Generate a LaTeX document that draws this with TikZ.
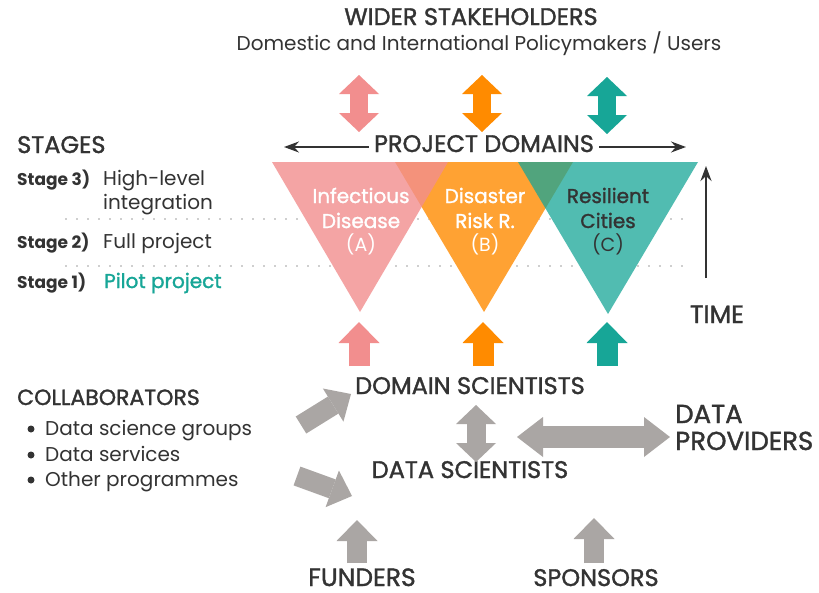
\documentclass[tikz,border=0pt]{standalone}
\usepackage{fontspec}
\setmainfont{Poppins}
\newfontfamily\medfont[FakeBold=1.4]{Poppins}
\usetikzlibrary{arrows.meta}
\definecolor{txt}{HTML}{333333}
\definecolor{gr}{HTML}{AAA6A4}
\definecolor{pk}{HTML}{F28E8E}
\definecolor{og}{HTML}{FF8B00}
\definecolor{tl}{HTML}{17A697}
\definecolor{dotc}{HTML}{CFCFCF}
\begin{document}
\begin{tikzpicture}[x=1pt,y=-1pt,
  head/.style={font=\medfont\fontsize{24}{28}\selectfont, text=txt, inner sep=0pt},
  body/.style={font=\fontsize{20}{24}\selectfont, text=txt, inner sep=0pt, anchor=base west},
  stagelab/.style={font=\bfseries\fontsize{17}{20}\selectfont, text=txt, inner sep=0pt, anchor=base west},
  tri/.style={font=\medfont\fontsize{20}{24}\selectfont, text=white, inner sep=0pt, anchor=base},
  trisub/.style={font=\fontsize{19}{23}\selectfont, text=white, inner sep=0pt, anchor=base},
  fatup/.style={line width=21pt, -{Triangle[length=21pt,width=41pt,line width=0pt]}},
  fatboth/.style={line width=18pt, {Triangle[length=19pt,width=40pt,line width=0pt]}-{Triangle[length=19pt,width=40pt,line width=0pt]}},
  thinarrow/.style={draw=txt, line width=2pt, -{Stealth[length=15pt,width=11pt,inset=5pt]}},
  dotline/.style={draw=dotc, line width=2pt, dash pattern=on 2pt off 9pt}
]
\useasboundingbox (0,0) rectangle (819,592);
\fill[white] (0,0) rectangle (819,592);

% header
\node[head, anchor=base] (wider) at (471,25) {WIDER STAKEHOLDERS};
\node[body, anchor=base] (users) at (479,50) {Domestic and International Policymakers / Users};

% stages
\node[head, anchor=base west] (stages) at (17,153) {STAGES};
\node[stagelab] (s3) at (17,185) {Stage 3)};
\node[body] (s3t) at (103,185) {High-level};
\node[body] (s3u) at (103,209) {integration};
\node[stagelab] (s2) at (17,248) {Stage 2)};
\node[body] (s2t) at (103,248) {Full project};
\node[stagelab] (s1) at (17,288) {Stage 1)};
\node[body, text=tl, font=\medfont\fontsize{20}{24}\selectfont] (s1t) at (104,288) {Pilot project};

\coordinate (d1a) at (65,219); \coordinate (d1b) at (690,219);
\coordinate (d2a) at (65,266); \coordinate (d2b) at (690,266);
\draw[dotline] (d1a) -- (d1b);
\draw[dotline] (d2a) -- (d2b);

% triangles
\coordinate (pA1) at (272,162); \coordinate (pA2) at (448,162); \coordinate (pA3) at (360,312);
\coordinate (oB1) at (395,162); \coordinate (oB2) at (573,162); \coordinate (oB3) at (484,312);
\coordinate (tC1) at (518,162); \coordinate (tC2) at (698,162); \coordinate (tC3) at (608,314);
\fill[white] (pA1) -- (pA2) -- (pA3) -- cycle;
\fill[white] (oB1) -- (oB2) -- (oB3) -- cycle;
\fill[white] (tC1) -- (tC2) -- (tC3) -- cycle;
\fill[og, fill opacity=0.8] (oB1) -- (oB2) -- (oB3) -- cycle;
\fill[pk, fill opacity=0.8] (pA1) -- (pA2) -- (pA3) -- cycle;
\fill[tl, fill opacity=0.75] (tC1) -- (tC2) -- (tC3) -- cycle;

\node[tri] (a1) at (361,203) {Infectious};
\node[tri] (a2) at (361,228) {Disease};
\node[trisub] (a3) at (361,251) {(A)};
\node[tri] (b1) at (485,203) {Disaster};
\node[tri] (b2) at (485,228) {Risk R.};
\node[trisub] (b3) at (485,251) {(B)};
\node[tri, text=txt] (c1) at (608,203) {Resilient};
\node[tri, text=txt] (c2) at (608,228) {Cities};
\node[trisub, text=txt] (c3) at (608,251) {(C)};

% project domains
\node[head, anchor=base] (pd) at (484,152) {PROJECT DOMAINS};
\coordinate (pdL) at (284,147); \coordinate (pdR) at (686,147);
\draw[thinarrow] ([xshift=-5pt]pd.west |- pdL) -- (pdL);
\draw[thinarrow] ([xshift=5pt]pd.east |- pdR) -- (pdR);

% top double arrows
\coordinate (ua1) at (359,75); \coordinate (ua2) at (359,132);
\coordinate (ub1) at (482,75); \coordinate (ub2) at (482,132);
\coordinate (uc1) at (607,77); \coordinate (uc2) at (607,134);
\draw[fatboth, pk] (ua1) -- (ua2);
\draw[fatboth, og] (ub1) -- (ub2);
\draw[fatboth, tl] (uc1) -- (uc2);

% time
\coordinate (tb) at (706,278); \coordinate (tt) at (706,166);
\draw[thinarrow, line width=2.5pt] (tb) -- (tt);
\node[head, anchor=base, font=\medfont\fontsize{25}{29}\selectfont] (time) at (717,323) {TIME};

% arrows up into triangles
\coordinate (la1) at (359,366); \coordinate (la2) at (359,322);
\coordinate (lb1) at (483,366); \coordinate (lb2) at (483,322);
\coordinate (lc1) at (607,366); \coordinate (lc2) at (607,322);
\draw[fatup, pk] (la1) -- (la2);
\draw[fatup, og] (lb1) -- (lb2);
\draw[fatup, tl] (lc1) -- (lc2);

% scientists
\node[head, anchor=base] (dom) at (470,394) {DOMAIN SCIENTISTS};
\node[head, anchor=base] (dsci) at (470,478) {DATA SCIENTISTS};
\node[head, anchor=base west, font=\medfont\fontsize{26}{30}\selectfont] (dp1) at (675,423) {DATA};
\node[head, anchor=base west, font=\medfont\fontsize{26}{30}\selectfont] (dp2) at (675,450) {PROVIDERS};

\coordinate (g1) at (476,405); \coordinate (g2) at (476,462);
\draw[fatboth, gr, line width=19pt] (g1) -- (g2);
\coordinate (h1) at (517,437); \coordinate (h2) at (670,437);
\draw[gr, line width=22pt, {Triangle[length=26pt,width=40pt,line width=0pt]}-{Triangle[length=26pt,width=40pt,line width=0pt]}] (h1) -- (h2);

% collaborators
\node[head, anchor=base west, font=\medfont\fontsize{22}{26}\selectfont] (coll) at (17,405) {COLLABORATORS};
\node[circle, fill=txt, inner sep=0pt, minimum size=7pt] (bu1) at (31,429) {};
\node[circle, fill=txt, inner sep=0pt, minimum size=7pt] (bu2) at (31,455) {};
\node[circle, fill=txt, inner sep=0pt, minimum size=7pt] (bu3) at (31,480) {};
\node[body] (cl1) at (45,435) {Data science groups};
\node[body] (cl2) at (45,461) {Data services};
\node[body] (cl3) at (45,486) {Other programmes};

\coordinate (ca1) at (301,425); \coordinate (ca2) at (351,394);
\coordinate (cb1) at (297,476); \coordinate (cb2) at (352,496);
\draw[gr, line width=20pt, -{Triangle[length=21pt,width=39pt,line width=0pt]}] (ca1) -- (ca2);
\draw[gr, line width=20pt, -{Triangle[length=21pt,width=39pt,line width=0pt]}] (cb1) -- (cb2);

% funders / sponsors
\node[head, anchor=base, font=\medfont\fontsize{25}{29}\selectfont] (fund) at (362,586) {FUNDERS};
\node[head, anchor=base] (spon) at (596,586) {SPONSORS};
\coordinate (f1) at (357,563); \coordinate (f2) at (357,520);
\coordinate (sp1) at (594,563); \coordinate (sp2) at (594,518);
\draw[fatup, gr, line width=20pt] (f1) -- (f2);
\draw[fatup, gr, line width=20pt] (sp1) -- (sp2);
\end{tikzpicture}
\end{document}
